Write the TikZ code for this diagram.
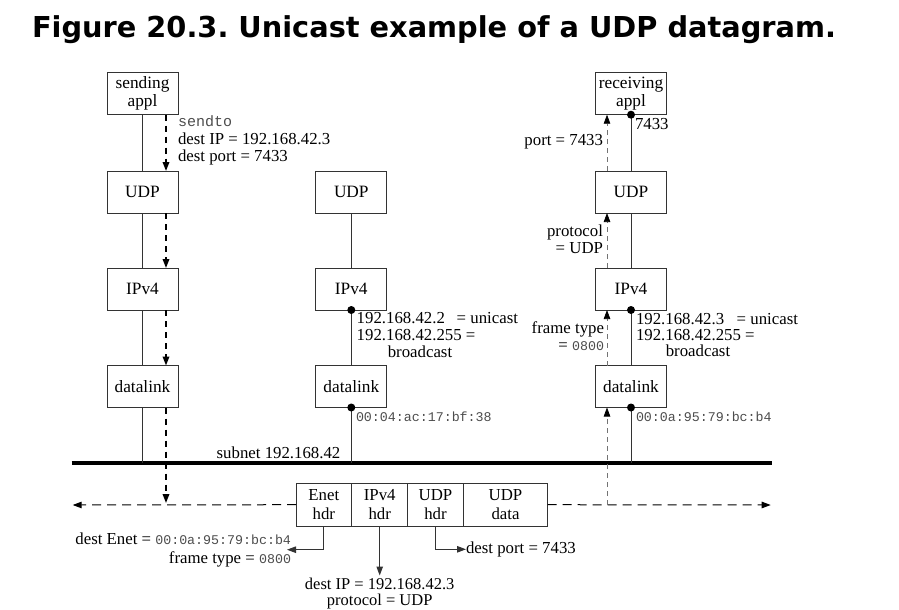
\documentclass[tikz,border=0pt]{standalone}
\usepackage{fontspec}
\setmainfont{Liberation Serif}
\setmonofont{Liberation Mono}
\newfontfamily\titlefont{DejaVu Sans}
\usetikzlibrary{arrows.meta,calc}
\frenchspacing
\begin{document}
\begin{tikzpicture}[x=1pt,y=-1pt,
  every node/.style={inner sep=0pt,outer sep=0pt,font=\fontsize{16.8}{17}\selectfont},
  layer/.style={draw=black!80,line width=1pt,minimum width=71pt,minimum height=42pt,align=center,font=\fontsize{17.3}{18}\selectfont},
  fbox/.style={draw=black!80,line width=1pt,minimum height=42.7pt,align=center,font=\fontsize{16.8}{19.5}\selectfont},
  wire/.style={draw=black!80,line width=1pt},
  tip/.style={-{Triangle[length=9pt,width=6.5pt]}},
  sendpath/.style={tip,line width=1.8pt,dash pattern=on 6pt off 5pt},
  recvpath/.style={-{Triangle[length=9pt,width=6.5pt,color=black]},draw=black!55,line width=0.7pt,dash pattern=on 5pt off 4pt},
  framepath/.style={tip,line width=1pt,dash pattern=on 9pt off 6pt},
  dot/.style={circle,fill=black,minimum size=8pt},
  mono/.style={font=\fontsize{13.3}{15}\selectfont\ttfamily,text=black!70},
  lbl/.style={font=\fontsize{16.8}{17}\selectfont}
]
\useasboundingbox (0,0) rectangle (899,610);

% title
\node[font=\titlefont\bfseries\fontsize{28.8}{32}\selectfont,anchor=west] (title) at (32,30) {Figure 20.3. Unicast example of a UDP datagram.};

% left stack
\node[layer] (sa) at (142.5,93.7) {sending\\appl};
\node[layer] (udpL) at (142.5,192) {UDP};
\node[layer] (ipL) at (142.5,289) {IPv4};
\node[layer] (dlL) at (142.5,386.5) {datalink};
% middle stack
\node[layer] (udpM) at (351.3,192) {UDP};
\node[layer] (ipM) at (351.3,289) {IPv4};
\node[layer] (dlM) at (351.3,386.5) {datalink};
% right stack
\node[layer] (ra) at (631,93.7) {receiving\\appl};
\node[layer] (udpR) at (631,192) {UDP};
\node[layer] (ipR) at (631,289) {IPv4};
\node[layer] (dlR) at (631,386.5) {datalink};

% bus
\coordinate (busW) at (71.7,462.7);
\coordinate (busE) at (771.7,462.7);
\draw[line width=3.6pt] (busW) -- (busE);
\node[anchor=west] (subnet) at (216.7,452.7) {subnet 192.168.42};

% solid links
\draw[wire] (sa) -- (udpL) -- (ipL) -- (dlL);
\draw[wire] (dlL.south) -- (dlL.south |- busW);
\draw[wire] (udpM) -- (ipM) -- (dlM);
\draw[wire] (dlM.south) -- (dlM.south |- busW);
\draw[wire] (ra) -- (udpR) -- (ipR) -- (dlR);
\draw[wire] (dlR.south) -- (dlR.south |- busW);

% dots
\node[dot] (d1) at (ipM.south) {};
\node[dot] (d2) at (dlM.south) {};
\node[dot] (d3) at (ra.south) {};
\node[dot] (d4) at (ipR.south) {};
\node[dot] (d5) at (dlR.south) {};

% frame
\node[fbox,minimum width=55.7pt] (enet) at (323.85,504.7) {Enet\\hdr};
\node[fbox,minimum width=56pt] (iph) at (379.7,504.7) {IPv4\\hdr};
\node[fbox,minimum width=55.6pt] (udph) at (435.5,504.7) {UDP\\hdr};
\node[fbox,minimum width=84.4pt] (udpd) at (505.5,504.7) {UDP\\data};
\coordinate (fW) at (72.7,505);
\coordinate (fE) at (770.7,505);
\draw[framepath] (enet.west) -- (fW);
\draw[framepath] (udpd.east) -- (fE);

% sending path
\draw[sendpath] ([xshift=23.5pt]sa.south) -- ([xshift=23.5pt]udpL.north);
\draw[sendpath] ([xshift=23.5pt]udpL.south) -- ([xshift=23.5pt]ipL.north);
\draw[sendpath] ([xshift=23.5pt]ipL.south) -- ([xshift=23.5pt]dlL.north);
\coordinate (sendEnd) at (166,503);
\draw[sendpath] ([xshift=23.5pt]dlL.south) -- (sendEnd);

% receiving path
\coordinate (recvStart) at (607,505);
\draw[recvpath] (recvStart) -- ([xshift=-24pt]dlR.south);
\draw[recvpath] ([xshift=-24pt]dlR.north) -- ([xshift=-24pt]ipR.south);
\draw[recvpath] ([xshift=-24pt]ipR.north) -- ([xshift=-24pt]udpR.south);
\draw[recvpath] ([xshift=-24pt]udpR.north) -- ([xshift=-24pt]ra.south);

% left annotations
\node[anchor=west,font=\fontsize{15}{15}\selectfont\ttfamily,text=black!70] (sendto) at (178,121) {sendto};
\node[anchor=west] (dip) at (178,139) {dest IP = 192.168.42.3};
\node[anchor=west] (dport) at (178,157.5) {dest port = 7433};

% right annotations
\node[anchor=east] (rport) at (603,141.7) {port = 7433};
\node[anchor=west] (r7433) at (635,124) {7433};
\node[anchor=east,align=right,lbl] (rproto) at (603,239.7) {protocol\\= UDP};
\node[anchor=east] (rft) at (604,329.3) {frame type};
\node[anchor=east] (rft2) at (604,346) {= {\fontsize{13.3}{15}\selectfont\ttfamily\color{black!70}0800}};

% middle addresses
\node[anchor=west] (mu1) at (356.7,318.3) {192.168.42.2};
\node[anchor=west] (mu2) at (456.7,318.3) {= unicast};
\node[anchor=west] (mb1) at (356.7,335) {192.168.42.255 =};
\node (mb2) at (420,351.7) {broadcast};
\node[mono,anchor=west] (mmac) at (356,417) {00:04:ac:17:bf:38};

% right addresses
\node[anchor=west] (ru1) at (636,319.3) {192.168.42.3};
\node[anchor=west] (ru2) at (736.7,319.3) {= unicast};
\node[anchor=west] (rb1) at (636,335) {192.168.42.255 =};
\node (rb2) at (698,351) {broadcast};
\node[mono,anchor=west] (rmac) at (636,416.7) {00:0a:95:79:bc:b4};

% bottom annotations
\node[anchor=east,align=right,font=\fontsize{16.8}{19}\selectfont] (enetlbl) at (291,549.7) {dest Enet = {\fontsize{13.3}{15}\selectfont\ttfamily\color{black!70}00:0a:95:79:bc:b4}\\frame type = {\fontsize{13.3}{15}\selectfont\ttfamily\color{black!70}0800}};
\draw[wire,tip] (enet.south) |- ([xshift=-4pt]enetlbl.east);
\node[anchor=north,align=center,font=\fontsize{16.5}{16}\selectfont] (iplbl) at (379.7,578) {dest IP = 192.168.42.3\\protocol = UDP};
\draw[wire,tip] (iph.south) -- ([yshift=2.5pt]iplbl.north);
\node[anchor=west] (portlbl) at (466,549.3) {dest port = 7433};
\draw[wire,tip] (udph.south) |- (portlbl.west);
\end{tikzpicture}
\end{document}
